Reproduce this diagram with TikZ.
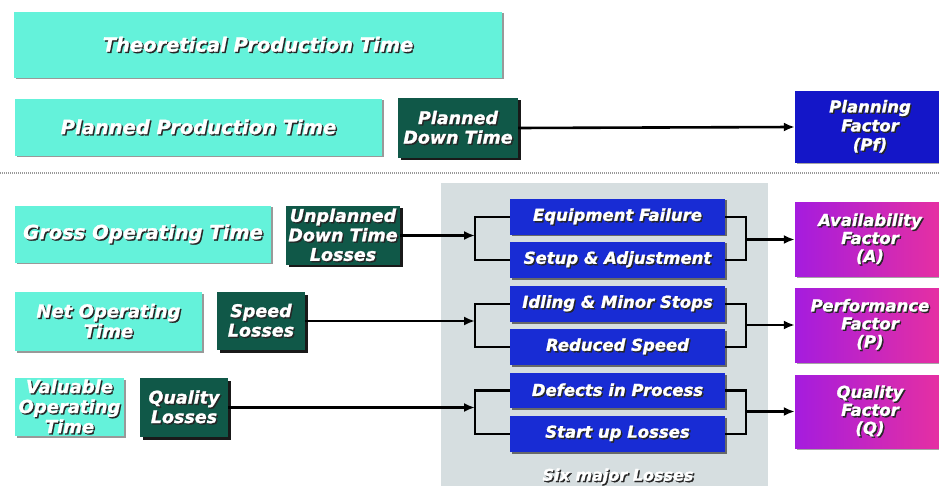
\documentclass[tikz,border=0pt]{standalone}
\usepackage{fontspec}
\setmainfont{DejaVu Sans}[BoldItalicFeatures={FakeBold=1.2}]
\usetikzlibrary{shadows,arrows.meta}
\definecolor{cy}{RGB}{100,242,218}
\definecolor{dg}{RGB}{16,88,72}
\definecolor{bl}{RGB}{24,44,212}
\definecolor{pfb}{RGB}{20,22,200}
\definecolor{mgL}{RGB}{165,28,222}
\definecolor{mgR}{RGB}{232,48,160}
\definecolor{pnl}{RGB}{214,222,224}
\newcommand\sh[1]{\makebox[0pt][l]{\kern1.4pt\raisebox{-1.4pt}{\textcolor{black!85}{#1}}}#1}
\newcommand\mybox[6]{\node[#2, minimum width={(#5-#3)*1pt}, minimum height={(#6-#4)*1pt}] (#1) at ({(#3+#5)/2},{(#4+#6)/2})}
\begin{document}
\begin{tikzpicture}[x=1pt,y=-1pt,
  box/.style={draw=none, inner sep=0pt, align=center, text=white,
    font=\fontsize{18}{20}\selectfont\bfseries\itshape},
  cyanbox/.style={box, fill=cy, drop shadow={shadow xshift=1.5pt, shadow yshift=-1.5pt, fill=black!50, opacity=0.8}},
  bigtxt/.style={font=\fontsize{19.5}{22}\selectfont\bfseries\itshape},
  greenbox/.style={box, fill=dg, font=\fontsize{17.5}{19.5}\selectfont\bfseries\itshape, drop shadow={shadow xshift=2.5pt, shadow yshift=-2.5pt, fill=black, opacity=0.9}},
  bluebox/.style={box, fill=bl, font=\fontsize{16.5}{19}\selectfont\bfseries\itshape, drop shadow={shadow xshift=1.5pt, shadow yshift=-1.5pt, fill=black!70, opacity=0.8}},
  pfbox/.style={box, fill=pfb, font=\fontsize{16.5}{19}\selectfont\bfseries\itshape, drop shadow={shadow xshift=1.5pt, shadow yshift=-1.5pt, fill=black!50, opacity=0.7}},
  facbox/.style={box, left color=mgL, right color=mgR, font=\fontsize{16.5}{18}\selectfont\bfseries\itshape, drop shadow={shadow xshift=1.5pt, shadow yshift=-1.5pt, fill=black!50, opacity=0.7}},
  ln/.style={line width=2.6pt, black},
  arr/.style={line width=2.6pt, black, -{Latex[length=11pt,width=9pt]}},
  sep/.style={line width=2.5pt, gray!80, dash pattern=on 1pt off 1pt}]
\useasboundingbox (0,0) rectangle (939,486);
\fill[white] (0,0) rectangle (939,486);

\mybox{theo}{cyanbox,bigtxt}{14}{12}{502}{78}{\sh{Theoretical Production Time}};
\mybox{ppt}{cyanbox,bigtxt}{15}{99}{382}{156}{\sh{Planned Production Time}};
\mybox{pdt}{greenbox}{398}{98}{518}{158}{\sh{Planned}\\\sh{Down Time}};
\mybox{pf}{pfbox}{795}{91}{945}{163}{\sh{Planning}\\\sh{Factor}\\\sh{(Pf)}};
\draw[arr] (pdt.east) -- (pf.west);

\draw[sep] (0,173) -- (939,173);

\mybox{panel}{box, fill=pnl}{441}{183}{768}{492}{};
\node[text=white, font=\fontsize{16}{18}\selectfont\bfseries\itshape] (six) at (618,477) {\sh{Six major Losses}};

\mybox{gross}{cyanbox,bigtxt}{15}{206}{271}{263}{\sh{Gross Operating Time}};
\mybox{udt}{greenbox}{286}{206}{400}{265}{\sh{Unplanned}\\\sh{Down Time}\\\sh{Losses}};
\mybox{net}{cyanbox}{15}{292}{202}{351}{\sh{Net Operating}\\\sh{Time}};
\mybox{spd}{greenbox}{217}{292}{305}{350}{\sh{Speed}\\\sh{Losses}};
\mybox{val}{cyanbox}{15}{378}{124}{436}{\sh{Valuable}\\\sh{Operating}\\\sh{Time}};
\mybox{ql}{greenbox}{140}{378}{228}{437}{\sh{Quality}\\\sh{Losses}};

\mybox{ef}{bluebox}{510}{199}{725}{235}{\sh{Equipment Failure}};
\mybox{sa}{bluebox}{510}{242}{725}{278}{\sh{Setup \& Adjustment}};
\mybox{im}{bluebox}{510}{286}{725}{322}{\sh{Idling \& Minor Stops}};
\mybox{rs}{bluebox}{510}{329}{725}{365}{\sh{Reduced Speed}};
\mybox{dp}{bluebox}{510}{373}{725}{408}{\sh{Defects in Process}};
\mybox{su}{bluebox}{510}{416}{725}{452}{\sh{Start up Losses}};

\mybox{af}{facbox}{795}{203}{945}{276}{\sh{Availability}\\\sh{Factor}\\\sh{(A)}};
\mybox{pff}{facbox}{795}{288}{945}{362}{\sh{Performance}\\\sh{Factor}\\\sh{(P)}};
\mybox{qf}{facbox}{795}{375}{945}{448}{\sh{Quality}\\\sh{Factor}\\\sh{(Q)}};

\coordinate (lb) at (475,0);
\coordinate (rb) at (746,0);

\draw[ln] (ef.west) -- (ef.west -| lb) -- (sa.west -| lb) -- (sa.west);
\draw[ln] (ef.east) -- (ef.east -| rb) -- (sa.east -| rb) -- (sa.east);
\draw[arr] (udt.east) -- (udt.east -| lb);
\draw[arr] (af.west -| rb) -- (af.west);

\draw[ln] (im.west) -- (im.west -| lb) -- (rs.west -| lb) -- (rs.west);
\draw[ln] (im.east) -- (im.east -| rb) -- (rs.east -| rb) -- (rs.east);
\draw[arr] (spd.east) -- (spd.east -| lb);
\draw[arr] (pff.west -| rb) -- (pff.west);

\draw[ln] (dp.west) -- (dp.west -| lb) -- (su.west -| lb) -- (su.west);
\draw[ln] (dp.east) -- (dp.east -| rb) -- (su.east -| rb) -- (su.east);
\draw[arr] (ql.east) -- (ql.east -| lb);
\draw[arr] (qf.west -| rb) -- (qf.west);
\end{tikzpicture}
\end{document}
